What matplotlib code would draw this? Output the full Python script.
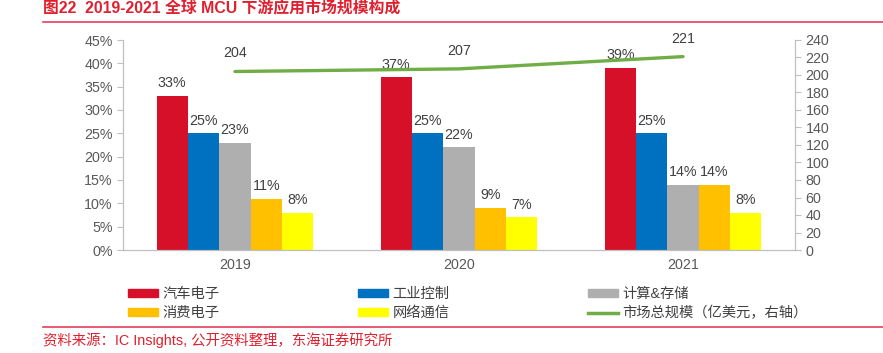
import matplotlib
matplotlib.use("Agg")
import matplotlib.pyplot as plt
import numpy as np
from matplotlib.lines import Line2D
from matplotlib.patches import Patch

plt.rcParams['font.family'] = ['Liberation Sans', 'Noto Sans CJK SC', 'DejaVu Sans']

years = ["2019", "2020", "2021"]
series_names = ["汽车电子", "工业控制", "计算&存储", "消费电子", "网络通信"]
shares = {
    "汽车电子": [33, 37, 39],
    "工业控制": [25, 25, 25],
    "计算&存储": [23, 22, 14],
    "消费电子": [11, 9, 14],
    "网络通信": [8, 7, 8],
}
market_size = [204, 207, 221]
line_name = "市场总规模（亿美元，右轴）"

colors = {
    "汽车电子": "#D7102A",
    "工业控制": "#0070C0",
    "计算&存储": "#AFAFAF",
    "消费电子": "#FFC000",
    "网络通信": "#FFFF00",
}
line_color = "#70AD47"
tick_color = "#595959"
spine_color = "#BFBFBF"
red = "#E0202F"
fs = 10.3

fig = plt.figure(figsize=(8.83, 3.53), dpi=100)
ax = fig.add_axes([123 / 883, 1 - 250 / 353, (795 - 123) / 883, 210 / 353])
ax2 = ax.twinx()

x = np.arange(len(years))
w = 0.14
for i, name in enumerate(series_names):
    vals = np.array(shares[name]) / 100
    bars = ax.bar(x + (i - 2) * w, vals, w, color=colors[name], label=name, zorder=2)
    ax.bar_label(bars, labels=[f"{v}%" for v in shares[name]], padding=4,
                 fontsize=fs, color="#404040")

ax2.plot(x, market_size, color=line_color, lw=2.4, zorder=3, solid_capstyle="round")
for xi, v in zip(x, market_size):
    ax2.annotate(str(v), (xi, v), xytext=(0, 8), textcoords="offset points",
                 ha="center", va="bottom", fontsize=fs, color="#404040")

ax.set_xlim(-0.5, 2.5)
ax.set_ylim(0, 0.45)
ax.set_yticks(np.arange(0, 0.451, 0.05))
ax.set_yticklabels([f"{int(round(t * 100))}%" for t in np.arange(0, 0.451, 0.05)])
ax2.set_ylim(0, 240)
ax2.set_yticks(np.arange(0, 241, 20))
ax.set_xticks(x)
ax.set_xticklabels(years)

for a in (ax, ax2):
    for s in a.spines.values():
        s.set_color(spine_color)
    a.spines["top"].set_visible(False)
    a.tick_params(colors=tick_color, labelsize=fs, length=4, width=0.8)
    a.tick_params(axis="y", colors=spine_color, labelcolor=tick_color)
ax.tick_params(axis="x", length=0, pad=6)

handles = [
    Patch(color=colors["汽车电子"]), Patch(color=colors["消费电子"]),
    Patch(color=colors["工业控制"]), Patch(color=colors["网络通信"]),
    Patch(color=colors["计算&存储"]), Line2D([], [], color=line_color, lw=2.5),
]
labels = ["汽车电子", "消费电子", "工业控制", "网络通信", "计算&存储", line_name]
fig.legend(handles, labels, ncol=3, loc="center left",
           bbox_to_anchor=(128 / 883, 1 - 303.5 / 353), frameon=False,
           borderpad=0, borderaxespad=0,
           fontsize=fs, handlelength=2.1, handleheight=0.5, handletextpad=0.3,
           columnspacing=9.7, labelspacing=0.35, labelcolor="#404040")

fig.text(43 / 883, 1 - 9 / 353, "图22  2019-2021 全球 MCU 下游应用市场规模构成",
         color=red, fontsize=11.4, fontweight="bold", va="center")
fig.add_artist(Line2D([43 / 883, 1], [1 - 22 / 353] * 2, color="#E4405A", lw=1.2))
fig.add_artist(Line2D([43 / 883, 1], [1 - 327 / 353] * 2, color="#E4405A", lw=1.2))
fig.text(43 / 883, 1 - 340 / 353, "资料来源：IC Insights, 公开资料整理，东海证券研究所",
         color=red, fontsize=10.4, va="center")

fig.savefig("out.png", dpi=100)
